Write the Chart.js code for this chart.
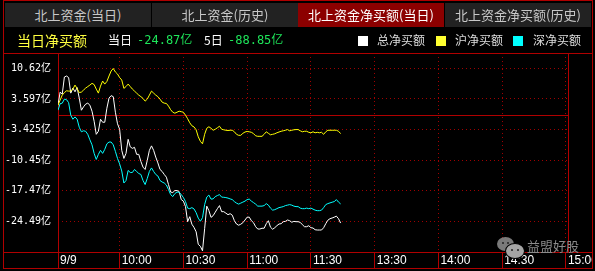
<!DOCTYPE html>
<html><head><meta charset="utf-8">
<script src="https://cdn.jsdelivr.net/npm/chart.js@4.4.1/dist/chart.umd.min.js"></script>
<style>
html,body{margin:0;padding:0;background:#000;width:595px;height:271px;overflow:hidden;}
#wrap{position:relative;width:595px;height:271px;}
canvas{position:absolute;left:0;top:0;}
.tab{position:absolute;top:3px;height:24px;width:146px;background:#222;color:#c8c8c8;font-family:"Noto Sans CJK SC",sans-serif;font-size:13px;line-height:24px;text-align:center;white-space:nowrap;}
.tab.on{background:#8c0000;color:#fff;}
.hd{position:absolute;top:32px;height:16px;line-height:16px;white-space:nowrap;font-family:"Noto Sans CJK SC",sans-serif;}
.num{font-family:"DejaVu Sans Mono","Noto Sans CJK SC",monospace;}
.sq{position:absolute;top:36px;width:10px;height:10px;}
#wm{position:absolute;left:527px;top:238px;font:13px "Noto Sans CJK SC",sans-serif;color:#8a8a8a;line-height:16px;}
.bub{position:absolute;border-radius:50%;}
.eye{position:absolute;width:2px;height:2px;background:#222;border-radius:50%;}
</style></head>
<body><div id="wrap">
<canvas id="c" width="595" height="271"></canvas>
<div class="tab" style="left:5px;">北上资金(当日)</div>
<div class="tab" style="left:152px;">北上资金(历史)</div>
<div class="tab on" style="left:298px;">北上资金净买额(当日)</div>
<div class="tab" style="left:445px;">北上资金净买额(历史)</div>
<div class="hd" style="left:17px;font-size:14px;color:#ffff40;">当日净买额</div>
<div class="hd" style="left:108px;font-size:12px;color:#fff;">当日</div>
<div class="hd num" style="left:137px;font-size:12px;color:#1ee65a;" id="today"></div>
<div class="hd" style="left:204px;font-size:12px;color:#fff;">5日</div>
<div class="hd num" style="left:228px;font-size:12px;color:#1ee65a;" id="five"></div>
<div class="sq" style="left:358px;background:#fff;"></div>
<div class="hd" style="left:377px;font-size:12px;color:#ddd;">总净买额</div>
<div class="sq" style="left:436px;background:#ffff30;"></div>
<div class="hd" style="left:455px;font-size:12px;color:#ddd;">沪净买额</div>
<div class="sq" style="left:513px;background:#00ffff;"></div>
<div class="hd" style="left:533px;font-size:12px;color:#ddd;">深净买额</div>
<div class="bub" style="left:497px;top:237px;width:17px;height:14px;background:#7a7a7a;"><div class="eye" style="left:5px;top:5px;"></div><div class="eye" style="left:10px;top:5px;"></div></div>
<div class="bub" style="left:505px;top:243px;width:18px;height:14px;background:#a5a5a5;border:1px solid #000;"><div class="eye" style="left:5px;top:5px;"></div><div class="eye" style="left:11px;top:5px;"></div></div>
<div id="wm">益盟好股</div>
</div>
<script>
// summary values
const todayNet = '-24.87亿';
const fiveDayNet = '-88.85亿';

// x axis: minutes since 9:30 (afternoon continues after 120 = 11:30/13:00)
const tickMinutes = [1, 30, 60, 90, 120, 150, 180, 210, 240];
const tickLabels = ['9/9', '10:00', '10:30', '11:00', '11:30', '13:30', '14:00', '14:30', '15:00'];

// y axis (亿元)
const yTicks = [10.62, 3.597, -3.425, -10.45, -17.47, -24.49];
const yLabels = ['10.62亿', '3.597亿', '-3.425亿', '-10.45亿', '-17.47亿', '-24.49亿'];
const yMin = -31.51, yMax = 14.13;

// 总净买额
const totalNet = [
 2.17, 5.16, 4.70, 8.62, 8.85, 8.50, 4.93, 6.08, 5.23, 6.20,
 3.78, 1.00, 1.77, 2.40, 2.63, 2.17, 0.78, -1.52, -4.52, -3.82,
 -1.06, -1.75, -1.75, 1.47, 3.78, 4.35, 4.12, 0.55, -2.10, -3.36,
 -8.20, -10.05, -8.89, -5.67, -7.40, -7.74, -7.51, -9.12, -9.12, -10.74,
 -12.05, -12.58, -10.50, -8.20, -7.17, -8.20, -9.75, -11.08, -12.58, -13.04,
 -13.73, -14.35, -16.04, -17.76, -17.88, -17.42, -17.42, -17.65, -19.49, -19.84,
 -21.10, -24.56, -23.41, -25.14, -25.87, -26.87, -29.75, -30.20, -31.24, -26.17,
 -20.99, -22.02, -23.57, -23.18, -22.37, -21.57, -20.87, -22.26, -22.26, -22.60,
 -22.95, -22.72, -23.06, -24.33, -25.09, -25.37, -25.14, -24.79, -24.17, -23.52,
 -23.52, -24.33, -24.79, -25.71, -26.24, -26.24, -26.06, -26.06, -25.02, -24.33,
 -25.83, -26.29, -25.94, -25.48, -25.09, -25.02, -24.56, -24.49, -24.17, -24.33,
 -24.68, -24.49, -24.56, -24.56, -24.72, -25.25, -25.71, -25.71, -25.48, -25.94,
 -26.01, -26.40, -26.47, -26.47, -26.47, -25.94, -25.02, -24.21, -23.87, -23.71,
 -23.52, -23.29, -23.87, -24.87
];
// 沪净买额
const shNet = [
 2.17, 3.32, 4.47, 5.05, 5.46, 5.39, 5.39, 5.85, 6.77, 5.97,
 5.05, 5.16, 5.62, 6.08, 6.43, 6.77, 7.17, 6.89, 5.85, 4.93,
 6.54, 7.70, 7.00, 7.60, 8.85, 10.00, 10.58, 9.77, 9.31, 8.50,
 7.93, 6.01, 6.43, 7.00, 6.43, 5.85, 5.39, 4.93, 4.47, 4.12,
 3.71, 3.09, 3.55, 4.47, 5.39, 4.93, 4.47, 4.12, 3.55, 2.86,
 2.63, 2.56, 1.94, 1.13, 0.55, 0.32, 0.55, 0.78, 0.67, 0.55,
 -0.14, -0.94, -1.87, -2.56, -2.83, -3.48, -5.09, -6.13, -6.70, -4.52,
 -3.13, -2.79, -3.13, -3.59, -3.36, -3.02, -2.67, -3.36, -3.48, -3.59,
 -3.64, -3.59, -3.59, -3.94, -4.52, -4.75, -4.75, -4.29, -3.99, -3.87,
 -3.94, -4.06, -4.36, -4.86, -4.98, -4.98, -4.98, -4.52, -3.94, -4.29,
 -4.63, -4.52, -4.40, -4.17, -3.99, -3.82, -3.71, -3.59, -3.43, -3.71,
 -3.59, -3.48, -3.43, -3.43, -3.71, -3.94, -3.82, -3.82, -4.06, -4.17,
 -3.94, -4.17, -4.06, -4.17, -4.06, -4.52, -3.94, -3.59, -3.59, -3.59,
 -3.59, -3.59, -3.82, -4.36
];
// 深净买额
const szNet = [
 1.01, 2.51, 2.63, 3.55, 3.43, 2.74, -0.14, -1.06, -0.53, -1.06,
 -2.90, -3.94, -3.71, -3.82, -4.52, -5.78, -6.93, -8.89, -10.28, -9.12,
 -8.20, -8.89, -7.97, -6.70, -6.29, -6.29, -6.93, -8.43, -10.05, -11.31,
 -12.93, -15.69, -15.11, -12.81, -13.27, -13.27, -12.58, -13.04, -13.50, -13.73,
 -15.11, -16.04, -14.65, -13.04, -12.23, -13.04, -13.73, -14.08, -15.11, -15.46,
 -15.69, -16.15, -17.19, -18.34, -18.80, -18.11, -17.76, -17.81, -18.34, -19.03,
 -19.95, -21.45, -21.57, -21.33, -21.63, -22.49, -23.75, -24.45, -23.64, -20.64,
 -18.92, -18.45, -19.38, -19.33, -18.80, -18.57, -18.34, -18.92, -18.96, -19.03,
 -19.15, -19.33, -19.49, -19.95, -20.30, -20.53, -20.30, -20.07, -19.84, -19.49,
 -19.38, -19.84, -20.18, -20.53, -20.99, -20.99, -20.99, -20.87, -20.41, -20.76,
 -21.45, -21.91, -21.80, -21.57, -21.33, -21.22, -21.10, -20.87, -20.76, -20.64,
 -20.76, -20.99, -21.10, -21.10, -21.45, -21.57, -21.57, -21.45, -21.57, -21.45,
 -21.68, -21.91, -22.03, -22.03, -21.91, -21.33, -20.64, -20.41, -20.25, -20.09,
 -19.95, -19.49, -20.07, -20.48
];
// minute index of each sample (9:31 onward, one per minute)
const minutes = totalNet.map((_, i) => i + 1);

document.getElementById('today').textContent = todayNet;
document.getElementById('five').textContent = fiveDayNet;

const RED = '#b00000';
const framePlugin = {
  id: 'frame',
  beforeDraw(chart) {
    const c = chart.ctx; c.save(); c.fillStyle = '#000'; c.fillRect(0, 0, chart.width, chart.height); c.restore();
  },
  beforeDatasetsDraw(chart) {
    const {ctx, chartArea: a, scales: {x, y}} = chart;
    ctx.save();
    ctx.strokeStyle = RED; ctx.lineWidth = 1; ctx.setLineDash([]);
    const L = 3.5, R = 592.5, T = 0.5, B = 268.5;
    const line = (x1, y1, x2, y2) => { ctx.beginPath(); ctx.moveTo(x1, y1); ctx.lineTo(x2, y2); ctx.stroke(); };
    ctx.strokeRect(L, T, R - L, B - T);
    const top = Math.round(a.top) + 0.5, bot = Math.round(a.bottom) + 0.5;
    const left = Math.round(a.left) + 0.5, right = Math.round(a.right) + 0.5;
    line(L, top, R, top); line(L, bot, R, bot);
    line(left, top, left, B); line(right, top, right, bot);
    tickMinutes.forEach(m => { const px = Math.floor(x.getPixelForValue(m)) + 0.5; line(px, bot, px, B); });
    const zy = Math.round(y.getPixelForValue(0)) + 0.5;
    line(left, zy, right, zy);
    ctx.restore();
  },
  afterDraw(chart) {
    const c = chart.ctx; c.save(); c.fillStyle = '#000'; c.fillRect(593, 253, 2, 18); c.restore();
  }
};

const mk = (label, vals, color) => ({
  label, data: minutes.map((m, i) => ({x: m, y: vals[i]})),
  borderColor: color, borderWidth: 1, pointRadius: 0, tension: 0, fill: false
});

new Chart(document.getElementById('c'), {
  type: 'line',
  data: { datasets: [
    mk('沪净买额', shNet, '#ffff00'),
    mk('深净买额', szNet, '#00ffff'),
    mk('总净买额', totalNet, '#ffffff')
  ]},
  options: {
    responsive: false, animation: false, devicePixelRatio: 1,
    layout: { padding: { left: 0, top: 53, right: 27, bottom: 0 } },
    plugins: { legend: { display: false }, tooltip: { enabled: false } },
    scales: {
      x: {
        type: 'linear', min: 1, max: 241,
        afterBuildTicks: s => { s.ticks = tickMinutes.map(v => ({value: v})); },
        afterFit: s => { s.height = 19; s.paddingLeft = 0; s.paddingRight = 0; },
        grid: { color: '#a00000', drawTicks: false, lineWidth: 1 },
        border: { display: false, dash: [1, 3] },
        ticks: { color: '#fff', font: { family: '"Liberation Sans", Arial, sans-serif', size: 12 },
          align: 'start', labelOffset: 2, padding: 1, maxRotation: 0, autoSkip: false,
          callback: (v, i) => tickLabels[i] }
      },
      y: {
        type: 'linear', min: yMin, max: yMax,
        afterBuildTicks: s => { s.ticks = yTicks.map(v => ({value: v})); },
        afterFit: s => { s.width = 58; s.paddingTop = 0; s.paddingBottom = 0; },
        grid: { color: '#a00000', drawTicks: false, lineWidth: 1 },
        border: { display: false, dash: [1, 3] },
        ticks: { color: '#fff', font: { family: '"DejaVu Sans Mono", "Noto Sans CJK SC", monospace', size: 10 },
          padding: 7, autoSkip: false, callback: (v, i) => yLabels[i] }
      }
    }
  },
  plugins: [framePlugin]
});
</script>
</body></html>
